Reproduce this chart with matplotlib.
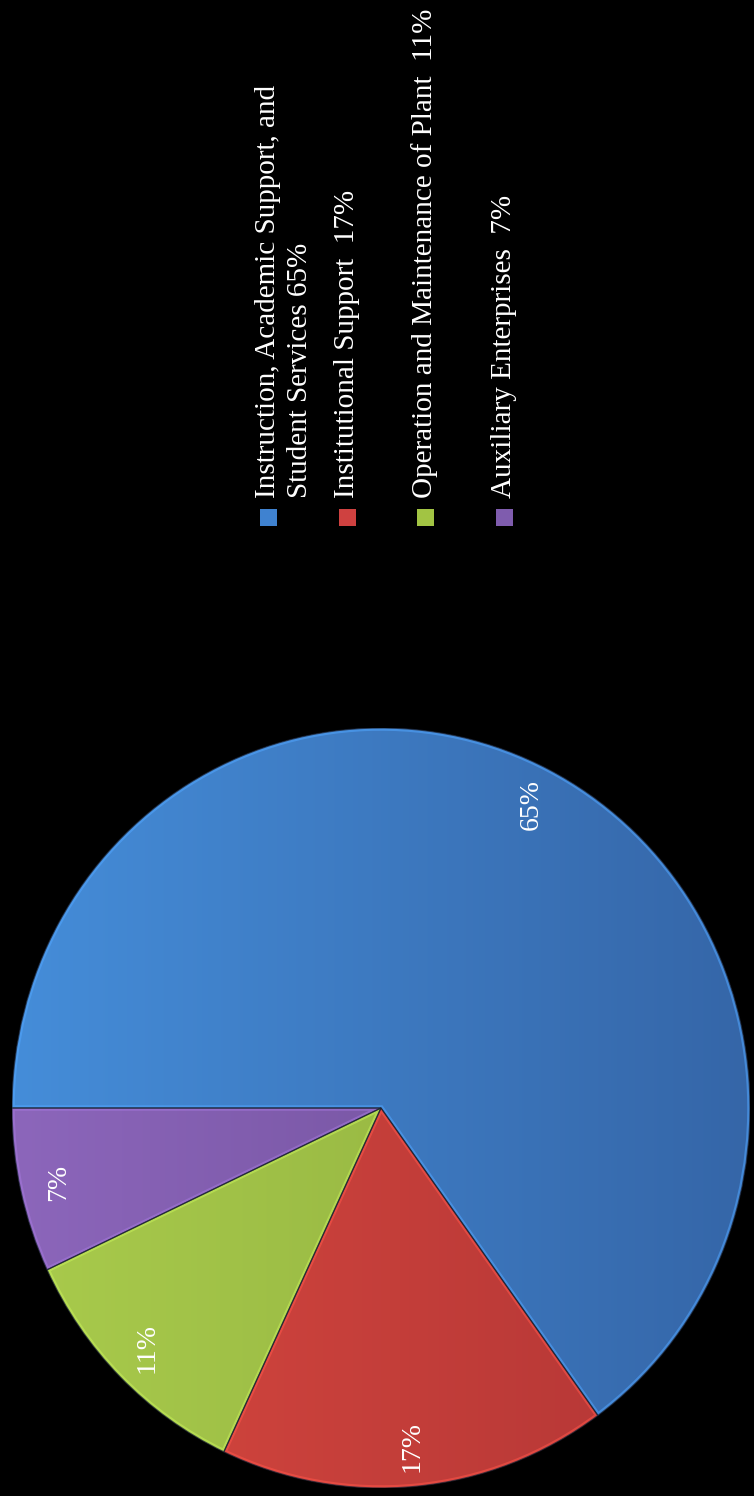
import numpy as np
import matplotlib
matplotlib.use("Agg")
from matplotlib import pyplot as plt
from matplotlib.patches import Rectangle, Wedge
from matplotlib.colors import to_rgb

plt.rcParams['font.family'] = ['Liberation Serif', 'DejaVu Serif']

# expense shares (percent)
categories = ['Instruction, Academic Support, and\nStudent Services',
              'Institutional Support ',
              'Operation and Maintenance of Plant ',
              'Auxiliary Enterprises ']
values = [65, 17, 11, 7]

# light (left) / dark (right) shade of each slice
light_colors = ['#458dd9', '#d8483f', '#a9cb4c', '#8c66bb']
dark_colors = ['#3566a8', '#b13535', '#8cab3d', '#6a4b93']
marker_colors = ['#3f82d0', '#cf4140', '#a2c443', '#7f5cae']

W, H = 754, 1496
fig = plt.figure(figsize=(W / 100, H / 100), dpi=100, facecolor='black')

# pie axes: unit circle spans x 12..750, y 728..1488 (pixels from top)
ax = fig.add_axes([12 / W, (H - 1488) / H, 738 / W, 760 / H])
ax.set_facecolor('black')
wedges, texts, autotexts = ax.pie(values, startangle=180, counterclock=False,
                                  autopct='%d%%', pctdistance=0.895,
                                  wedgeprops=dict(linewidth=0))
ax.set_aspect('auto')
ax.set_xlim(-1, 1)
ax.set_ylim(-1, 1)
ax.axis('off')

xs = np.linspace(0, 1, 256)
for w, lc, dc in zip(wedges, light_colors, dark_colors):
    w.set_facecolor('none')
    lc, dc = np.array(to_rgb(lc)), np.array(to_rgb(dc))
    grad = lc[None, None, :] * (1 - xs[None, :, None]) + dc[None, None, :] * xs[None, :, None]
    im = ax.imshow(grad, extent=[-1, 1, -1, 1], aspect='auto', zorder=1,
                   interpolation='bilinear')
    im.set_clip_path(w)
    # bevel highlight along the slice edges
    bevel = Wedge(w.center, w.r, w.theta1, w.theta2, facecolor='none',
                  edgecolor=tuple(np.minimum(lc * 1.18, 1)),
                  linewidth=4, alpha=0.55, zorder=2)
    ax.add_patch(bevel)
    bevel.set_clip_path(w)
    sep = Wedge(w.center, w.r, w.theta1, w.theta2, facecolor='none',
                edgecolor='#1b2233', linewidth=0.9, alpha=0.7, zorder=3)
    ax.add_patch(sep)

for t in autotexts:
    t.set_color('white')
    t.set_fontsize(20)
    t.set_rotation(90)
    t.set_ha('center')
    t.set_va('center')
    t.set_zorder(5)

# legend drawn in pixel space
lax = fig.add_axes([0, 0, 1, 1])
lax.set_xlim(0, W)
lax.set_ylim(H, 0)
lax.axis('off')

entry_x = [268, 347, 425, 504]
for x0, name, v, mc in zip(entry_x, categories, values, marker_colors):
    lax.add_patch(Rectangle((x0 - 8.5, 509), 17, 17, facecolor=mc,
                            edgecolor='none'))
    lines = f"{name} {v}%".split('\n')
    for i, line in enumerate(lines):
        lax.text(x0 + 32 * i, 498, line, rotation=90, ha='center', va='bottom',
                 color='white', fontsize=21)

fig.savefig('out.png', dpi=100, facecolor='black')
